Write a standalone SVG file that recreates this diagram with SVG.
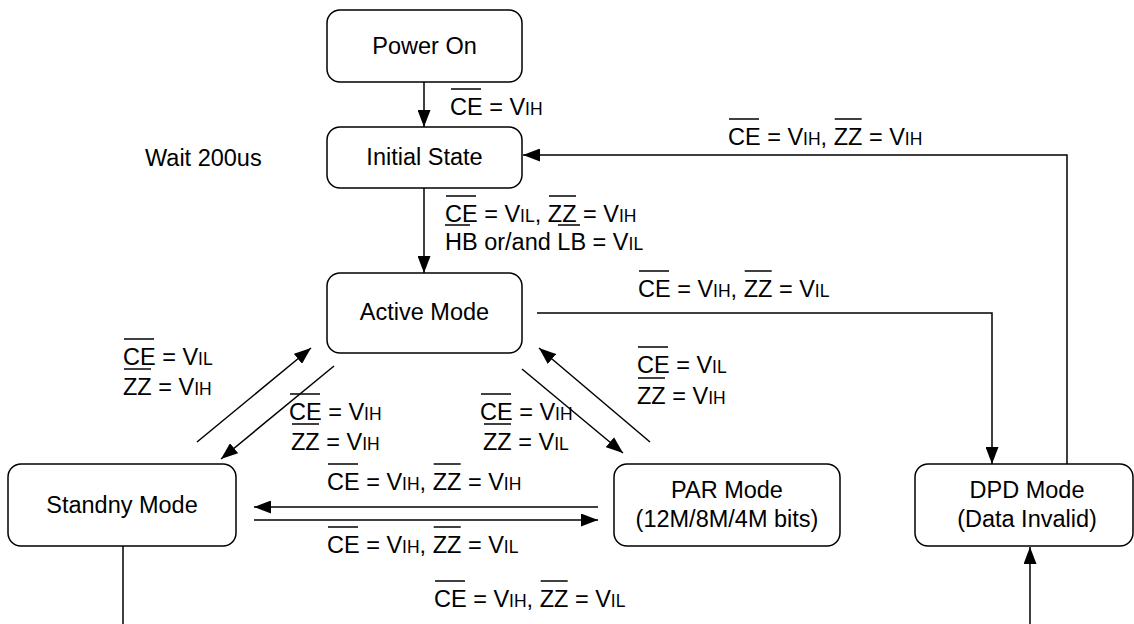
<svg xmlns="http://www.w3.org/2000/svg" width="1134" height="624" viewBox="0 0 1134 624">
<style>
  .box{fill:#fff;stroke:#000;stroke-width:1.5}
  .t{font-family:"Liberation Sans",Arial,sans-serif;font-size:23.5px;fill:#000}
  .c{text-anchor:middle}
  .s{font-size:17.5px}
  .e{fill:none;stroke:#000;stroke-width:1.5}
  .ov{stroke:#000;stroke-width:1.5}
</style>
<defs>
  <marker id="arr" markerUnits="userSpaceOnUse" markerWidth="17" markerHeight="13" viewBox="0 0 17 13" refX="17" refY="6.5" orient="auto">
    <path d="M0,0 L17,6.5 L0,13 z" fill="#000"/>
  </marker>
</defs>
<rect width="1134" height="624" fill="#fff"/>

<g id="connectors">
  <path class="e" d="M424,82 L424,127" marker-end="url(#arr)"/>
  <path class="e" d="M424,188 L424,273" marker-end="url(#arr)"/>
  <path class="e" d="M537,313 L992,313 L992,464" marker-end="url(#arr)"/>
  <path class="e" d="M1067,464 L1067,155 L523,155" marker-end="url(#arr)"/>
  <path class="e" d="M197,442 L311,348" marker-end="url(#arr)"/>
  <path class="e" d="M334,366 L221,459" marker-end="url(#arr)"/>
  <path class="e" d="M522,369 L623,453" marker-end="url(#arr)"/>
  <path class="e" d="M650,442 L539,348" marker-end="url(#arr)"/>
  <path class="e" d="M598,507 L254,507" marker-end="url(#arr)"/>
  <path class="e" d="M254,520 L598,520" marker-end="url(#arr)"/>
  <path class="e" d="M123,546 L123,660 L1030,660 L1030,547" marker-end="url(#arr)"/>
</g>

<g id="node-power-on">
  <rect class="box" x="327" y="10" width="195" height="72" rx="13"/>
  <text class="t c" x="424.5" y="54">Power On</text>
</g>
<g id="node-initial-state">
  <rect class="box" x="327" y="127" width="195" height="61" rx="13"/>
  <text class="t c" x="424.5" y="165">Initial State</text>
</g>
<g id="node-active-mode">
  <rect class="box" x="327" y="273" width="195" height="80" rx="13"/>
  <text class="t c" x="424.5" y="320">Active Mode</text>
</g>
<g id="node-standby-mode">
  <rect class="box" x="8" y="464" width="228" height="82" rx="13"/>
  <text class="t c" x="122" y="513">Standny Mode</text>
</g>
<g id="node-par-mode">
  <rect class="box" x="614" y="464" width="226" height="82" rx="13"/>
  <text class="t c" x="727" y="498">PAR Mode</text>
  <text class="t c" x="727" y="527">(12M/8M/4M bits)</text>
</g>
<g id="node-dpd-mode">
  <rect class="box" x="915" y="464" width="218" height="82" rx="13"/>
  <text class="t c" x="1027" y="498">DPD Mode</text>
  <text class="t c" x="1027" y="527">(Data Invalid)</text>
</g>

<g id="edge-labels">
  <text class="t" x="145" y="166">Wait 200us</text>

  <text class="t" x="450" y="115">CE = V<tspan class="s">IH</tspan></text>
  <line class="ov" x1="451" y1="89" x2="481" y2="89"/>

  <text class="t" x="445" y="222">CE = V<tspan class="s">IL</tspan>, ZZ = V<tspan class="s">IH</tspan></text>
  <text class="t" x="445" y="250">HB or/and LB = V<tspan class="s">IL</tspan></text>
  <line class="ov" x1="446" y1="196" x2="476" y2="196"/>
  <line class="ov" x1="549" y1="196" x2="576" y2="196"/>
  <line class="ov" x1="445" y1="225" x2="470" y2="225"/>
  <line class="ov" x1="558" y1="225" x2="580" y2="225"/>

  <text class="t" x="728" y="145">CE = V<tspan class="s">IH</tspan>, ZZ = V<tspan class="s">IH</tspan></text>
  <line class="ov" x1="729" y1="119" x2="759" y2="119"/>
  <line class="ov" x1="834.7" y1="119" x2="861.7" y2="119"/>

  <text class="t" x="638" y="297">CE = V<tspan class="s">IH</tspan>, ZZ = V<tspan class="s">IL</tspan></text>
  <line class="ov" x1="639" y1="271" x2="669" y2="271"/>
  <line class="ov" x1="744.7" y1="271" x2="771.7" y2="271"/>

  <text class="t" x="123" y="365">CE = V<tspan class="s">IL</tspan></text>
  <text class="t" x="123" y="395">ZZ = V<tspan class="s">IH</tspan></text>
  <line class="ov" x1="124" y1="339" x2="154" y2="339"/>
  <line class="ov" x1="124" y1="369" x2="151" y2="369"/>

  <text class="t" x="637" y="373">CE = V<tspan class="s">IL</tspan></text>
  <text class="t" x="637" y="404">ZZ = V<tspan class="s">IH</tspan></text>
  <line class="ov" x1="638" y1="347" x2="668" y2="347"/>
  <line class="ov" x1="638" y1="378" x2="665" y2="378"/>

  <text class="t" x="289" y="420">CE = V<tspan class="s">IH</tspan></text>
  <text class="t" x="291" y="450">ZZ = V<tspan class="s">IH</tspan></text>
  <line class="ov" x1="290" y1="394" x2="320" y2="394"/>
  <line class="ov" x1="292" y1="424" x2="319" y2="424"/>

  <text class="t" x="480" y="420">CE = V<tspan class="s">IH</tspan></text>
  <text class="t" x="483" y="450">ZZ = V<tspan class="s">IL</tspan></text>
  <line class="ov" x1="481" y1="394" x2="511" y2="394"/>
  <line class="ov" x1="484" y1="424" x2="511" y2="424"/>

  <text class="t" x="327" y="490">CE = V<tspan class="s">IH</tspan>, ZZ = V<tspan class="s">IH</tspan></text>
  <line class="ov" x1="328" y1="464" x2="358" y2="464"/>
  <line class="ov" x1="433.7" y1="464" x2="460.7" y2="464"/>

  <text class="t" x="327" y="553">CE = V<tspan class="s">IH</tspan>, ZZ = V<tspan class="s">IL</tspan></text>
  <line class="ov" x1="328" y1="527" x2="358" y2="527"/>
  <line class="ov" x1="433.7" y1="527" x2="460.7" y2="527"/>

  <text class="t" x="434" y="607">CE = V<tspan class="s">IH</tspan>, ZZ = V<tspan class="s">IL</tspan></text>
  <line class="ov" x1="435" y1="581" x2="465" y2="581"/>
  <line class="ov" x1="540.7" y1="581" x2="567.7" y2="581"/>
</g>
</svg>
